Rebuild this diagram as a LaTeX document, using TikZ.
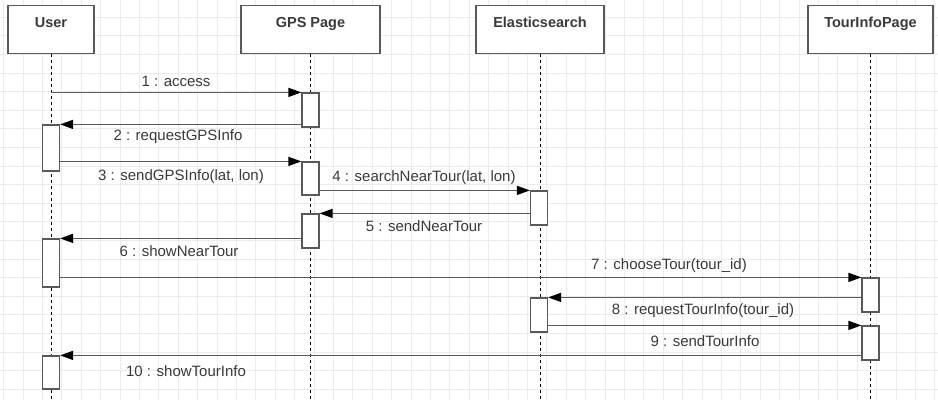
\documentclass[tikz,border=0pt]{standalone}
\usepackage{fontspec}
\setmainfont{Liberation Sans}
\usetikzlibrary{arrows.meta,calc}
\definecolor{gridc}{HTML}{EBEBEB}
\definecolor{linec}{HTML}{595959}
\definecolor{textc}{HTML}{3A3A3A}
\tikzset{
  gridline/.style={draw=gridc, line width=0.8pt},
  head/.style={draw=linec, line width=1.3pt, fill=white, minimum height=47pt,
    inner ysep=3pt, text height=19pt, text depth=23pt, font=\fontsize{14.5}{16}\selectfont\bfseries, text=textc},
  lifeline/.style={draw=black, line width=0.9pt, dash pattern=on 3pt off 3pt},
  actbox/.style={draw=linec, line width=1.2pt, fill=white, minimum width=17pt, inner sep=0pt},
  msg/.style={draw=linec, line width=1.4pt, -{Triangle[length=13pt,width=9pt,color=black]}},
  msglabel/.style={font=\fontsize{15}{16}\selectfont, text=textc, inner sep=0pt}
}
\begin{document}
\begin{tikzpicture}[x=1pt,y=-1pt]
\useasboundingbox (0,0) rectangle (938,400);
\fill[white] (0,0) rectangle (938,400);
% background grid
\foreach \i in {0,...,48} {
  \draw[gridline] (3.6+19.4*\i,0) -- (3.6+19.4*\i,400);
}
\foreach \j in {0,...,21} {
  \draw[gridline] (0,17.2+18.6*\j) -- (938,17.2+18.6*\j);
}
\coordinate (bottom) at (0,400);
% heads
\node[head, minimum width=86pt]  (user)  at (51,29.5)    {User};
\node[head, minimum width=139pt] (gps)   at (310.5,29.5) {GPS Page};
\node[head, minimum width=128pt] (es)    at (540,29.5)   {Elasticsearch};
\node[head, minimum width=125pt] (tour)  at (870.5,29.5) {TourInfoPage};
% lifelines
\draw[lifeline] (user.south) -- (user.south |- bottom);
\draw[lifeline] (gps.south) -- (gps.south |- bottom);
\draw[lifeline] (es.south) -- (es.south |- bottom);
\draw[lifeline] (tour.south) -- (tour.south |- bottom);
% activations
\node[actbox, minimum height=46pt] (u1) at (51,148)    {};
\node[actbox, minimum height=48pt] (u2) at (51,263)    {};
\node[actbox, minimum height=33pt] (u3) at (51,372.5)  {};
\node[actbox, minimum height=34pt] (g1) at (310.5,110) {};
\node[actbox, minimum height=33pt] (g2) at (310.5,178.5) {};
\node[actbox, minimum height=34pt] (g3) at (310.5,231) {};
\node[actbox, minimum height=34pt] (e1) at (539,208)   {};
\node[actbox, minimum height=34pt] (e2) at (539,315)   {};
\node[actbox, minimum height=34pt] (t1) at (870.5,295) {};
\node[actbox, minimum height=34pt] (t2) at (870.5,343) {};
% messages
\draw[msg] (user.south |- g1.north) -- (g1.north west);
\draw[msg] (g1.west |- u1.north) -- (u1.north east);
\draw[msg] (u1.east |- g2.north) -- (g2.north west);
\draw[msg] (g2.east |- e1.north) -- (e1.north west);
\draw[msg] (e1.west |- g3.north) -- (g3.north east);
\draw[msg] (g3.west |- u2.north) -- (u2.north east);
\draw[msg] (u2.east |- t1.north) -- (t1.north west);
\draw[msg] (t1.west |- e2.north) -- (e2.north east);
\draw[msg] (e2.east |- t2.north) -- (t2.north west);
\draw[msg] (t2.west |- u3.north) -- (u3.north east);
% labels
\node[msglabel] (l1)  at (176,81)  {1 : access};
\node[msglabel] (l2)  at (178,137) {2 : requestGPSInfo};
\node[msglabel] (l3)  at (181,177) {3 : sendGPSInfo(lat, lon)};
\node[msglabel] (l4)  at (424,178) {4 : searchNearTour(lat, lon)};
\node[msglabel] (l5)  at (424,226) {5 : sendNearTour};
\node[msglabel] (l6)  at (179,251) {6 : showNearTour};
\node[msglabel] (l7)  at (669,266) {7 : chooseTour(tour\_id)};
\node[msglabel] (l8)  at (703,311) {8 : requestTourInfo(tour\_id)};
\node[msglabel] (l9)  at (705,341) {9 : sendTourInfo};
\node[msglabel] (l10) at (186,371) {10 : showTourInfo};
\end{tikzpicture}
\end{document}
